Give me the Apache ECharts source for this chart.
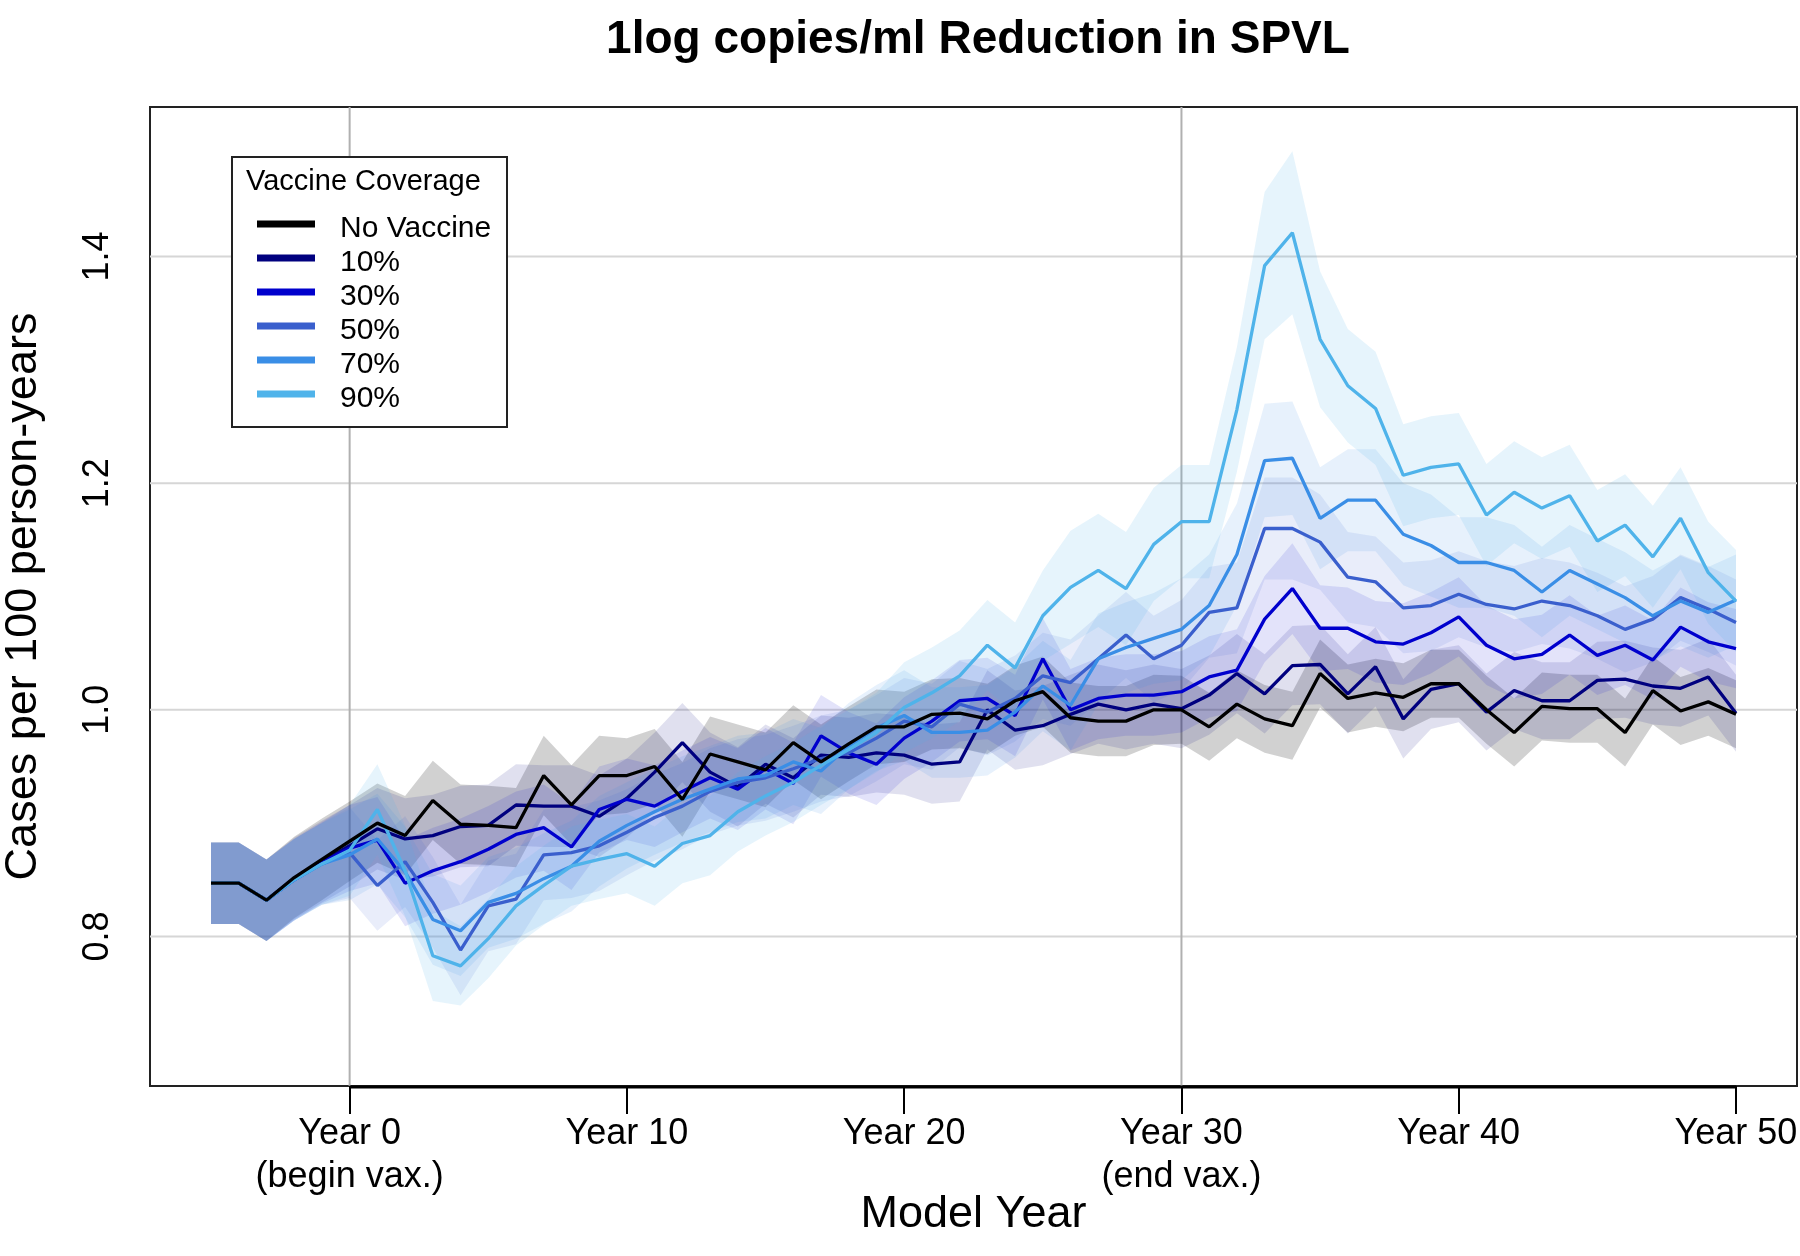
<!DOCTYPE html>
<html><head><meta charset="utf-8">
<script src="https://cdn.jsdelivr.net/npm/echarts@6/dist/echarts.min.js"></script>
<style>html,body{margin:0;padding:0;background:#fff}#chart{width:1800px;height:1256px}</style>
</head><body><div id="chart"></div>
<script>
// ---------- DATA ----------
const years = [-5,-4,-3,-2,-1,0,1,2,3,4,5,6,7,8,9,10,11,12,13,14,15,16,17,18,19,20,21,22,23,24,25,26,27,28,29,30,31,32,33,34,35,36,37,38,39,40,41,42,43,44,45,46,47,48,49,50];

const noVaccine = [0.847,0.847,0.832,0.852,0.868,
  0.884,0.900,0.889,0.920,0.899,0.898,0.896,0.942,0.916,0.942,
  0.942,0.950,0.921,0.961,0.954,0.947,0.971,0.954,0.970,0.985,
  0.985,0.996,0.997,0.992,1.008,1.016,0.993,0.990,0.990,1.000,
  1.000,0.985,1.005,0.992,0.986,1.032,1.010,1.015,1.011,1.023,
  1.023,1.000,0.980,1.003,1.001,1.001,0.980,1.017,0.999,1.007,0.996];

const cov10 = [0.847,0.847,0.832,0.851,0.866,
  0.880,0.895,0.886,0.889,0.897,0.898,0.916,0.915,0.915,0.906,
  0.922,0.945,0.971,0.945,0.932,0.952,0.940,0.960,0.958,0.962,
  0.960,0.952,0.954,1.000,0.982,0.986,0.996,1.005,1.000,1.005,
  1.001,1.013,1.032,1.014,1.039,1.040,1.014,1.038,0.992,1.018,
  1.023,0.998,1.017,1.008,1.008,1.026,1.027,1.021,1.019,1.029,0.997];

const cov30 = [0.847,0.847,0.832,0.850,0.865,
  0.878,0.885,0.847,0.858,0.866,0.877,0.890,0.896,0.879,0.912,
  0.921,0.915,0.928,0.940,0.930,0.948,0.935,0.977,0.962,0.952,
  0.975,0.990,1.008,1.010,0.995,1.045,1.000,1.010,1.013,1.013,
  1.016,1.029,1.035,1.080,1.107,1.072,1.072,1.060,1.058,1.068,
  1.082,1.057,1.045,1.049,1.066,1.048,1.057,1.044,1.073,1.060,1.054];

const cov50 = [0.847,0.847,0.832,0.850,0.864,
  0.874,0.845,0.866,0.830,0.788,0.827,0.833,0.872,0.874,0.880,
  0.892,0.905,0.915,0.928,0.936,0.940,0.948,0.957,0.962,0.975,
  0.990,0.985,1.005,0.998,1.010,1.030,1.024,1.045,1.066,1.045,
  1.057,1.086,1.090,1.160,1.160,1.148,1.117,1.113,1.090,1.092,
  1.102,1.093,1.089,1.096,1.092,1.083,1.071,1.080,1.099,1.089,1.077];

const cov70 = [0.847,0.847,0.832,0.850,0.864,
  0.872,0.886,0.857,0.815,0.805,0.830,0.838,0.851,0.862,0.884,
  0.898,0.910,0.921,0.930,0.939,0.942,0.954,0.946,0.968,0.984,
  0.995,0.980,0.980,0.982,0.998,1.021,1.004,1.045,1.055,1.063,
  1.071,1.092,1.137,1.220,1.222,1.169,1.185,1.185,1.155,1.145,
  1.130,1.130,1.123,1.104,1.123,1.111,1.099,1.083,1.096,1.086,1.097];

const cov90 = [0.847,0.847,0.832,0.850,0.864,
  0.876,0.912,0.858,0.783,0.774,0.798,0.827,0.845,0.862,0.868,
  0.873,0.862,0.882,0.889,0.910,0.924,0.936,0.951,0.965,0.980,
  1.002,1.015,1.030,1.057,1.037,1.083,1.108,1.123,1.107,1.146,
  1.166,1.166,1.265,1.392,1.421,1.327,1.286,1.266,1.207,1.214,
  1.217,1.172,1.192,1.178,1.189,1.149,1.163,1.135,1.169,1.121,1.096];

// half-widths of the shaded intervals
const ciNoVaccine = [0.036,0.036,0.036,0.036,0.036,
  0.035,0.035,0.035,0.035,0.035,0.035,0.035,0.035,0.035,0.035,
  0.033,0.033,0.033,0.033,0.033,0.033,0.033,0.033,0.033,0.033,
  0.031,0.031,0.031,0.031,0.031,0.031,0.031,0.031,0.031,0.031,
  0.030,0.030,0.030,0.030,0.030,0.030,0.030,0.030,0.030,0.030,
  0.030,0.030,0.030,0.030,0.030,0.030,0.030,0.030,0.030,0.030,0.030];
const ci10 = [0.036,0.036,0.036,0.036,0.036,
  0.036,0.036,0.036,0.036,0.036,0.036,0.036,0.036,0.036,0.036,
  0.035,0.035,0.035,0.035,0.035,0.035,0.035,0.035,0.035,0.035,
  0.035,0.035,0.035,0.035,0.035,0.035,0.035,0.035,0.035,0.035,
  0.035,0.035,0.035,0.035,0.035,0.035,0.035,0.035,0.035,0.035,
  0.034,0.034,0.034,0.034,0.034,0.034,0.034,0.034,0.034,0.034,0.034];
const ci30 = [0.036,0.036,0.036,0.036,0.036,
  0.038,0.038,0.038,0.038,0.038,0.038,0.038,0.038,0.038,0.038,
  0.036,0.036,0.036,0.036,0.036,0.036,0.036,0.036,0.036,0.036,
  0.036,0.036,0.036,0.036,0.036,0.036,0.036,0.036,0.036,0.036,
  0.036,0.036,0.036,0.038,0.040,0.038,0.036,0.036,0.036,0.036,
  0.035,0.035,0.035,0.035,0.035,0.035,0.035,0.035,0.035,0.035,0.035];
const ci50 = [0.036,0.036,0.036,0.036,0.036,
  0.040,0.040,0.040,0.040,0.040,0.040,0.040,0.040,0.040,0.040,
  0.038,0.038,0.038,0.038,0.038,0.038,0.038,0.038,0.038,0.038,
  0.038,0.038,0.038,0.038,0.038,0.038,0.038,0.038,0.038,0.038,
  0.040,0.040,0.040,0.045,0.045,0.042,0.040,0.040,0.040,0.040,
  0.038,0.038,0.038,0.038,0.038,0.038,0.038,0.038,0.038,0.038,0.038];
const ci70 = [0.036,0.036,0.036,0.036,0.036,
  0.040,0.040,0.040,0.040,0.040,0.040,0.040,0.040,0.040,0.040,
  0.038,0.038,0.038,0.038,0.038,0.038,0.038,0.038,0.038,0.038,
  0.040,0.040,0.040,0.040,0.040,0.040,0.040,0.040,0.040,0.040,
  0.045,0.045,0.045,0.050,0.050,0.045,0.045,0.045,0.045,0.045,
  0.040,0.040,0.040,0.040,0.040,0.040,0.040,0.040,0.040,0.040,0.040];
const ci90 = [0.036,0.036,0.036,0.036,0.036,
  0.040,0.040,0.040,0.040,0.035,0.035,0.035,0.035,0.035,0.035,
  0.035,0.035,0.035,0.035,0.035,0.035,0.035,0.035,0.035,0.035,
  0.040,0.040,0.040,0.040,0.040,0.040,0.050,0.050,0.050,0.050,
  0.050,0.050,0.055,0.065,0.072,0.060,0.050,0.050,0.045,0.045,
  0.045,0.045,0.045,0.045,0.045,0.045,0.045,0.045,0.045,0.045,0.045];

const seriesNames = ['No Vaccine', '10%', '30%', '50%', '70%', '90%'];
const xTickValues = [0, 10, 20, 30, 40, 50];
const xTickLabels = ['Year 0\n(begin vax.)', 'Year 10', 'Year 20', 'Year 30\n(end vax.)', 'Year 40', 'Year 50'];
const yTickValues = [0.8, 1.0, 1.2, 1.4];
const markedYears = [0, 30];

// ---------- STYLE ----------
const values = [noVaccine, cov10, cov30, cov50, cov70, cov90];
const halfWidths = [ciNoVaccine, ci10, ci30, ci50, ci70, ci90];
const lineColors = ['#000000', '#00007f', '#0000cd', '#3a5fcd', '#3a8ee6', '#4fb3ea'];
const bandFills = ['rgba(0,0,0,0.18)', 'rgba(0,0,127,0.12)', 'rgba(0,0,205,0.11)',
                   'rgba(58,95,205,0.11)', 'rgba(58,142,230,0.12)', 'rgba(79,179,234,0.14)'];
const X_MIN = -7.2, X_MAX = 52.2, Y_MIN = 0.668, Y_MAX = 1.532;
const FONT = "'Liberation Sans', Arial, Helvetica, sans-serif";

const chart = echarts.init(document.getElementById('chart'), null, { renderer: 'canvas' });

const series = [];

// grid lines (horizontal at tick values, vertical at marked years)
series.push({
  type: 'custom', name: 'gridlines', z: 1, silent: true, animation: false,
  data: [[0, 1]], encode: { x: 0, y: 1 },
  renderItem: (params, api) => {
    const children = [];
    yTickValues.forEach(v => {
      const a = api.coord([X_MIN, v]), b = api.coord([X_MAX, v]);
      children.push({ type: 'line', shape: { x1: a[0], y1: a[1], x2: b[0], y2: b[1] },
        style: { stroke: '#d6d6d6', lineWidth: 2 } });
    });
    markedYears.forEach(x => {
      const a = api.coord([x, Y_MIN]), b = api.coord([x, Y_MAX]);
      children.push({ type: 'line', shape: { x1: a[0], y1: a[1], x2: b[0], y2: b[1] },
        style: { stroke: '#b0b0b0', lineWidth: 2 } });
    });
    // bottom axis segment from first to last tick
    const p = api.coord([xTickValues[0], Y_MIN]), q = api.coord([xTickValues[xTickValues.length - 1], Y_MIN]);
    children.push({ type: 'line', shape: { x1: p[0], y1: p[1] + 1, x2: q[0], y2: q[1] + 1 },
      style: { stroke: '#000', lineWidth: 3 } });
    return { type: 'group', children };
  }
});

// shaded bands
values.forEach((vals, k) => {
  series.push({
    type: 'custom', name: 'band' + k, z: 2, silent: true, animation: false, clip: true,
    data: [[0, 1]], encode: { x: 0, y: 1 },
    renderItem: (params, api) => {
      const up = years.map((x, i) => api.coord([x, vals[i] + halfWidths[k][i]]));
      const lo = years.map((x, i) => api.coord([x, vals[i] - halfWidths[k][i]])).reverse();
      return { type: 'polygon', shape: { points: up.concat(lo) }, style: { fill: bandFills[k] } };
    }
  });
});

// lines (coverage first, no-vaccine on top)
[1, 2, 3, 4, 5, 0].forEach(k => {
  series.push({
    type: 'line', name: seriesNames[k], z: 3, animation: false,
    data: years.map((x, i) => [x, values[k][i]]),
    showSymbol: false, symbol: 'none',
    color: lineColors[k],
    itemStyle: { color: lineColors[k] },
    lineStyle: { color: lineColors[k], width: 3.3 }
  });
});

chart.setOption({
  backgroundColor: '#fff',
  animation: false,
  title: {
    text: '1log copies/ml Reduction in SPVL',
    left: 973, top: 12, textAlign: 'center',
    textStyle: { fontFamily: FONT, fontSize: 46, fontWeight: 'bold', color: '#000' }
  },
  grid: { left: 150, top: 107, width: 1647, height: 979, show: true, containLabel: false,
          outerBoundsMode: 'none',
          borderColor: '#222', borderWidth: 2, backgroundColor: 'transparent' },
  xAxis: {
    type: 'value', min: X_MIN, max: X_MAX,
    name: 'Model Year', nameLocation: 'middle', nameGap: 106, nameMoveOverlap: false,
    nameTextStyle: { fontFamily: FONT, fontSize: 45, color: '#000' },
    axisLine: { show: false },
    axisTick: { show: true, customValues: xTickValues, length: 28, lineStyle: { color: '#000', width: 2 } },
    axisLabel: {
      customValues: xTickValues,
      formatter: v => xTickLabels[xTickValues.indexOf(v)],
      fontFamily: FONT, fontSize: 36, lineHeight: 43, color: '#000', margin: 27
    },
    splitLine: { show: false }
  },
  yAxis: {
    type: 'value', min: Y_MIN, max: Y_MAX,
    name: 'Cases per 100 person-years', nameLocation: 'middle', nameRotate: 90, nameGap: 104,
    nameTextStyle: { fontFamily: FONT, fontSize: 45, color: '#000' },
    axisLine: { show: false },
    axisTick: { show: false },
    axisLabel: {
      customValues: yTickValues, rotate: 90,
      formatter: v => Number(v).toFixed(1),
      fontFamily: FONT, fontSize: 36, lineHeight: 40, color: '#000', margin: 32
    },
    splitLine: { show: false }
  },
  legend: {
    data: seriesNames, orient: 'vertical', left: 257, top: 212, z: 20,
    padding: 0, itemGap: 0, itemWidth: 58, itemHeight: 17,
    icon: 'path://M0,0h58v7h-58z M0,16.99h58v0.01h-58z',
    selectedMode: false,
    textStyle: { fontFamily: FONT, fontSize: 30, lineHeight: 34, color: '#000', padding: [0, 0, 0, 20] }
  },
  graphic: { elements: [
    { type: 'rect', z: 10, shape: { x: 232, y: 157, width: 275, height: 270 },
      style: { fill: '#fff', stroke: '#222', lineWidth: 2 } },
    { type: 'text', z: 11, x: 246, y: 182,
      style: { text: 'Vaccine Coverage', font: "29px 'Liberation Sans', Arial, sans-serif",
               fill: '#000', textVerticalAlign: 'middle', verticalAlign: 'middle' } }
  ] },
  series
});
</script></body></html>
